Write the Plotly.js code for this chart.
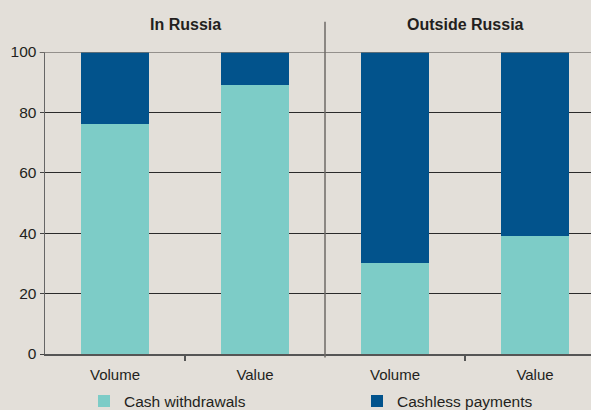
<!DOCTYPE html>
<html>
<head>
<meta charset="utf-8">
<script src="https://cdn.plot.ly/plotly-3.0.1.min.js"></script>
<style>html,body{margin:0;padding:0;background:#e3dfd9;}#chart{width:591px;height:410px;}</style>
</head>
<body>
<div id="chart"></div>
<script>
var categories = ['Volume', 'Value', 'Volume', 'Value'];
var groups = ['In Russia', 'Outside Russia'];
var cashWithdrawals = [76, 89, 30, 39];
var cashlessPayments = [24, 11, 70, 61];
var seriesNames = ['Cash withdrawals', 'Cashless payments'];
var yTicks = [0, 20, 40, 60, 80, 100];

var FONT = '"Liberation Sans", Arial, sans-serif';
var xPos = categories.map(function (c, i) { return i; });

var traces = [
  {type: 'bar', x: xPos, y: cashWithdrawals, name: seriesNames[0], legend: 'legend',
   marker: {color: '#7dccc7', line: {width: 0}}, hoverinfo: 'y'},
  {type: 'bar', x: xPos, y: cashlessPayments, name: seriesNames[1], legend: 'legend2',
   marker: {color: '#02538c', line: {width: 0}}, hoverinfo: 'y'}
];

function legendAt(xpx) {
  return {orientation: 'h', x: (xpx - 45) / 546, xanchor: 'left', y: -0.157, yanchor: 'middle',
          font: {family: FONT, size: 15.5, color: '#231f20'}, bgcolor: 'rgba(0,0,0,0)'};
}

var layout = {
  width: 591, height: 410,
  paper_bgcolor: '#e3dfd9', plot_bgcolor: '#e3dfd9',
  margin: {l: 45, r: 0, t: 52, b: 56, autoexpand: false},
  barmode: 'stack', bargap: 0.51,
  font: {family: FONT, size: 15, color: '#231f20'},
  showlegend: true,
  legend: legendAt(84),
  legend2: legendAt(357),
  xaxis: {range: [-0.5, 3.4], tickvals: xPos, ticktext: categories, ticks: '',
          ticklabelstandoff: 6,
          showgrid: false, zeroline: false, showline: true, linecolor: '#555', linewidth: 1.5,
          tickfont: {family: FONT, size: 15, color: '#231f20'},
          minor: {tickvals: [0.5, 2.5], ticks: 'outside', ticklen: 5, tickcolor: '#555', tickwidth: 1.5, showgrid: false},
          fixedrange: true},
  yaxis: {range: [0, 100], tickvals: yTicks, ticks: 'outside', ticklen: 4, tickcolor: '#444',
          showgrid: true, gridcolor: '#2a2a2a', gridwidth: 1, zeroline: false,
          showline: true, linecolor: '#666', linewidth: 1.5,
          tickfont: {family: FONT, size: 15.5, color: '#231f20'}, fixedrange: true},
  shapes: [
    {type: 'line', xref: 'paper', yref: 'y', x0: -0.01, x1: 1, y0: 100, y1: 100,
     line: {color: '#7a7672', width: 1.5}},
    {type: 'line', xref: 'x', yref: 'paper', x0: 1.5, x1: 1.5, y0: -0.012, y1: 1.1,
     line: {color: '#6e6a66', width: 1.5}}
  ],
  annotations: groups.map(function (g, i) {
    return {text: '<b>' + g + '</b>', xref: 'x', yref: 'paper', x: 0.5 + 2 * i, y: 1.09,
            xanchor: 'center', yanchor: 'middle', showarrow: false,
            font: {family: FONT, size: 16, color: '#231f20'}};
  })
};

Plotly.newPlot('chart', traces, layout, {displayModeBar: false, staticPlot: true});
</script>
</body>
</html>
